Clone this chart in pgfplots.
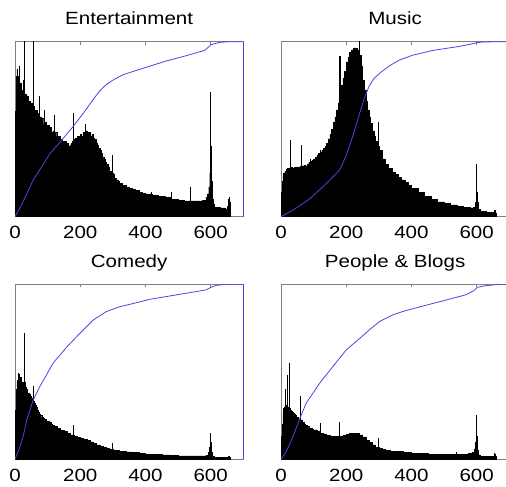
\documentclass[border=0pt]{standalone}
\usepackage{fontspec}
\setmainfont{Liberation Sans}
\usepackage{pgfplots}
\pgfplotsset{compat=1.18}
\definecolor{cdfblue}{RGB}{70,70,230}
\definecolor{spine}{RGB}{128,128,128}
\newcommand{\hs}[1]{\scalebox{1.16}[1]{#1}}
\pgfplotsset{
  panel/.style={
    scale only axis, width=228.3pt, height=175pt,
    anchor=south west,
    xmin=0, xmax=700, ymin=0, ymax=100,
    xtick={0,200,400,600},
    xticklabels={\hs{0},\hs{200},\hs{400},\hs{600}},
    ytick=\empty,
    tick align=inside, major tick length=3pt,
    every tick/.style={spine},
    axis line style={spine},
    /pgf/number format/assume math mode=true,
    font=\fontsize{17.7}{20}\selectfont,
    xticklabel style={anchor=north, inner sep=0pt, yshift=-9.5pt},
    every axis title/.style={at={(0.5,1)}, anchor=base, yshift=17pt, inner sep=0pt},
    after end axis/.code={\draw[cdfblue, line width=0.8pt] (rel axis cs:1,0) -- (rel axis cs:1,1);},
  },
  hist/.style={ybar interval, fill=black, draw=black, line width=0.4pt, mark=none},
  spikes/.style={ycomb, black, line width=1.1pt, mark=none},
  cdf/.style={cdfblue, line width=0.8pt, mark=none},
}
\begin{document}
\begin{tikzpicture}
% ---------------- Entertainment
\begin{axis}[panel, at={(15pt,270.3pt)}, title={\hs{Entertainment}}]
\addplot[hist] coordinates {
(0,38)(2,60)(4,80)(6,84)(8,78)(10,80)(12,76)(15,74)(18,76)(20,72)(23,70)(26,72)(29,68)(32,70)(35,67)(38,69)(41,65)(44,66)(47,64)(50,65)(53,62)(56,63)(59,61)(62,60)(65,61)(68,58)(71,59)(74,56)(77,57)(80,55)(84,56)(88,53)(92,54)(96,51)(100,52)(104,50)(108,51)(112,48)(116,49)(120,47)(124,48)(128,46)(132,45)(136,46)(140,44)(144,43)(148,42)(152,43)(156,41)(160,42)(164,40)(168,41)(172,42)(176,43)(180,44)(184,45)(188,44)(192,46)(196,45)(200,47)(204,46)(208,48)(212,47)(216,49)(220,48)(224,47)(228,48)(232,46)(236,47)(240,45)(244,44)(248,42)(252,41)(256,39)(260,38)(264,36)(268,34)(272,33)(276,31)(280,30)(285,28)(290,26)(295,25)(300,24)(305,22)(310,21)(315,20)(320,19)(330,18)(340,17)(350,16)(360,15.5)(370,15)(380,14)(390,13.5)(400,13)(420,12)(440,11.5)(460,11)(480,10)(500,9.5)(520,9)(540,9)(560,9)(575,9.5)(585,11)(590,13)(594,17)(597,25)(599,40)(602,20)(604,10)(607,7)(612,5.5)(630,5)(645,4.5)(652,6)(655,10)(658,8)(661,0)
};
\addplot[spikes] coordinates {(13,86)(25,78)(30,110)(56,110)(76,69)(90,61)(120,58)(179,59)(217,53)(300,35)(419,14)(479,14)(538,17)(599,71)(657,11)};
\addplot[cdf] coordinates {(0,0)(15,5)(36,13)(56,21)(80,28)(107,36)(140,43)(178,51.5)(209,59)(240,67)(260,72)(280,75.5)(300,78)(330,81)(362,83)(413,86)(464,89)(525,92)(581,95)(594,97)(601,98.3)(627,99.6)(657,100)(700,100)};
\end{axis}
% ---------------- Music
\begin{axis}[panel, at={(281pt,270.3pt)}, title={\hs{Music}}]
\addplot[hist] coordinates {
(0,5)(2,14)(4,20)(6,23)(8,25)(12,26)(16,27)(20,27.7)(25,27)(30,28)(35,27.5)(40,28)(45,28.5)(50,28)(55,28.5)(60,28.6)(65,29)(70,29.5)(75,29)(80,30)(85,31)(90,31.5)(95,32)(100,33)(105,34)(110,35)(115,36)(120,37)(125,38)(130,39)(135,40.5)(140,42)(145,44.5)(150,47)(155,50)(160,54)(165,57)(170,61)(175,65)(180,70)(185,75)(190,79)(195,83)(200,88)(205,91)(210,94)(215,95)(220,96)(225,96.5)(230,96)(235,95)(240,92)(245,86)(250,78)(255,72)(260,66)(265,61)(270,57)(275,53.5)(280,49)(285,46)(290,43)(295,40)(300,38)(310,33)(320,30)(330,27.5)(340,25.5)(350,24)(360,22.5)(370,21)(380,19.5)(390,18)(400,16)(420,14)(440,11.5)(460,10)(480,8.5)(500,7.6)(520,6.8)(540,6)(560,5.5)(580,5)(590,5.5)(595,8)(598,14)(601,8)(604,4)(610,3)(630,2.6)(650,2.3)(654,3.5)(657,2)(661,0)
};
\addplot[spikes] coordinates {(30,44)(62,41)(90,33)(120,38)(181,92)(240,102)(300,54)(599,30)(655,3.5)};
\addplot[cdf] coordinates {(0,0)(37,3.8)(61,6.7)(90,10.5)(122,16)(150,21)(181,27)(200,35)(220,46)(241,59)(255,67.5)(270,74.5)(285,79)(306,82.5)(335,86.5)(363,89.5)(404,92.3)(465,95)(546,97.3)(592,99)(600,99.5)(620,99.8)(660,100)(700,100)};
\end{axis}
% ---------------- Comedy
\begin{axis}[panel, at={(15pt,27.7pt)}, title={\hs{Comedy}}]
\addplot[hist] coordinates {
(0,10)(2,28)(4,40)(6,45)(8,44)(10,46)(13,45)(16,47)(19,43)(22,44)(25,42)(28,44)(31,41)(34,40)(37,38)(40,37.5)(43,37)(46,36)(49,35)(52,34)(55,33)(58,32)(61,31)(64,29.5)(67,28)(70,27)(74,26)(78,25)(82,24)(86,23.5)(90,23)(95,22)(100,21.5)(105,21)(110,20)(115,19.5)(120,18.7)(130,17.5)(140,16.5)(150,15.8)(160,15)(170,14)(180,13)(190,12.5)(200,12)(210,11.5)(220,11)(230,10)(240,9)(250,8.2)(260,7.5)(270,7)(280,6.3)(290,5.8)(300,5.3)(320,4.7)(340,4.2)(360,3.8)(380,3.4)(400,3)(425,2.7)(450,2.5)(475,2.2)(500,1.9)(550,1.9)(575,2)(585,2.3)(592,4)(596,7)(599,10)(602,4)(605,1.5)(610,1.1)(650,1.1)(655,1.6)(658,1)(661,0)
};
\addplot[spikes] coordinates {(10,49.5)(15,49)(30,72)(58,42)(179,19.6)(300,9.5)(599,15)};
\addplot[cdf] coordinates {(0,0)(15,7)(25,13)(36,22.5)(56,34)(76,41.5)(117,55)(158,64)(199,72)(240,79.6)(280,84.4)(321,87.2)(362,89)(413,91.4)(464,93)(525,94.9)(586,96.8)(598,98)(617,99.4)(647,100)(700,100)};
\end{axis}
% ---------------- People & Blogs
\begin{axis}[panel, at={(281pt,27.7pt)}, title={\hs{People \& Blogs}}]
\addplot[hist] coordinates {
(0,5)(2,13)(4,20)(6,26)(8,29)(10,30)(13,31)(16,30)(19,30)(22,29)(25,29)(28,28)(31,27.5)(34,27)(37,26.5)(40,26)(44,25)(48,24)(52,23)(56,22.5)(60,22.5)(65,21)(70,20)(75,19.5)(80,18.7)(85,18)(90,17.5)(95,17)(100,16.8)(110,16)(120,15)(130,14.5)(140,13.5)(150,13)(160,13)(170,13.2)(180,13.3)(190,13.8)(200,14.3)(210,14.8)(220,15)(230,14.7)(240,14)(250,12.8)(260,11)(270,9.5)(280,8.2)(290,7)(300,6.3)(310,5.6)(320,5)(335,4.6)(350,4.4)(375,3.9)(400,3.4)(425,3.2)(450,3)(500,2.9)(550,3)(575,3.4)(585,4)(592,6)(596,10)(599,13)(602,5)(606,2.5)(610,1.5)(650,1.5)(654,3)(658,1.5)(661,0)
};
\addplot[spikes] coordinates {(15,40)(20,48)(27,55)(60,36)(120,20.6)(180,21.5)(300,12.4)(539,4.4)(599,25.3)(655,3.4)};
\addplot[cdf] coordinates {(0,0)(16,4.4)(37,13)(60,24.4)(77,32)(118,43.4)(159,53)(200,62.5)(241,69)(271,74)(302,78.7)(342,82.5)(383,85)(444,88)(506,91)(567,94)(592,96.4)(602,98.3)(628,99.2)(669,100)(700,100)};
\end{axis}
\pgfresetboundingbox
\path[use as bounding box] (0pt,0pt) rectangle (506pt,487pt);
\end{tikzpicture}
\end{document}
